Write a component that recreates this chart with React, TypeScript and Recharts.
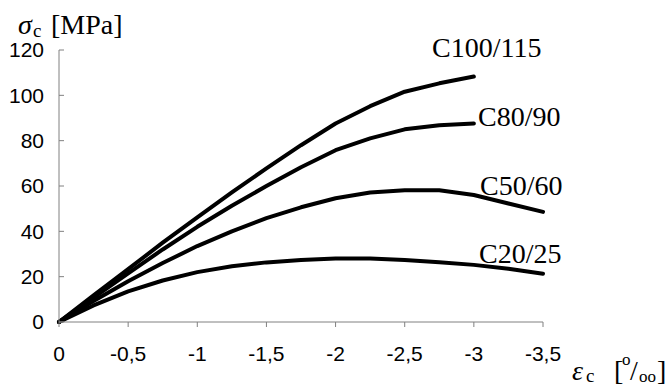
import React from 'react';
import { LineChart, Line, XAxis, YAxis, Label } from 'recharts';

const strain = [0, -0.25, -0.5, -0.75, -1, -1.25, -1.5, -1.75, -2, -2.25, -2.5, -2.75, -3, -3.25, -3.5];
const c20 = [0, 7.3, 13.5, 18.3, 22, 24.6, 26.3, 27.4, 28, 28, 27.3, 26.4, 25.2, 23.5, 21.3];
const c50 = [0, 9.3, 18, 26, 33.5, 40, 45.8, 50.6, 54.6, 57.1, 58.1, 58.1, 56, 52.3, 48.6];
const c80 = [0, 10.8, 21.5, 32, 42, 51.3, 60, 68.3, 75.8, 81, 85, 86.8, 87.6, null, null];
const c100 = [0, 11.8, 23.3, 35, 46.2, 57.2, 67.8, 78, 87.6, 95.2, 101.6, 105.3, 108.3, null, null];

const xTicks = [0, -0.5, -1, -1.5, -2, -2.5, -3, -3.5];
const yTicks = [0, 20, 40, 60, 80, 100, 120];
const seriesKeys = ['c20', 'c50', 'c80', 'c100'];
const seriesNames = ['C20/25', 'C50/60', 'C80/90', 'C100/115'];

const data = strain.map((s, i) => ({
  strain: s,
  c20: c20[i],
  c50: c50[i],
  c80: c80[i],
  c100: c100[i],
}));

const SERIF = 'Liberation Serif, Times New Roman, serif';
const SANS = 'Liberation Sans, Arial, sans-serif';
const AXIS = '#808080';

const fmtX = (v: number) => String(v).replace('.', ',');

const YTitle = () => (
  <g fontFamily={SERIF} fill="#000">
    <text x={18} y={34} fontSize={28} fontStyle="italic">σ</text>
    <text x={33} y={37} fontSize={19}>c</text>
    <text x={51} y={34} fontSize={28}>[MPa]</text>
  </g>
);

const XTitle = () => (
  <g fontFamily={SERIF} fill="#000">
    <text x={572} y={380} fontSize={28} fontStyle="italic">ε</text>
    <text x={586} y={382} fontSize={19}>c</text>
    <text x={614} y={380} fontSize={28}>[</text>
    <text x={622} y={365} fontSize={17}>o</text>
    <text x={630} y={380} fontSize={28}>/</text>
    <text x={639} y={382} fontSize={17}>oo</text>
    <text x={657} y={380} fontSize={28}>]</text>
  </g>
);

const CurveLabels = () => (
  <g fontFamily={SERIF} fill="#000" fontSize={28}>
    <text x={432} y={57}>{seriesNames[3]}</text>
    <text x={478} y={126}>{seriesNames[2]}</text>
    <text x={480} y={195}>{seriesNames[1]}</text>
    <text x={479} y={263}>{seriesNames[0]}</text>
  </g>
);

export default function App() {
  return (
    <div style={{ position: 'absolute', left: 0, top: 0, background: '#fff' }}>
      <LineChart
        width={667}
        height={386}
        data={data}
        margin={{ top: 50, right: 124, left: 0, bottom: 0 }}
      >
        <XAxis
          dataKey="strain"
          type="number"
          domain={[-3.5, 0]}
          reversed
          ticks={xTicks}
          interval={0}
          tickFormatter={fmtX}
          height={64}
          stroke={AXIS}
          tickSize={5}
          tickMargin={19}
          tick={{ fill: '#000', fontSize: 21, fontFamily: SANS }}
        >
          <Label content={() => <XTitle />} />
        </XAxis>
        <YAxis
          type="number"
          domain={[0, 120]}
          ticks={yTicks}
          interval={0}
          width={59}
          stroke={AXIS}
          tickSize={-5}
          tickMargin={20}
          tick={{ fill: '#000', fontSize: 21, fontFamily: SANS }}
        >
          <Label content={() => (<g><YTitle /><CurveLabels /></g>)} />
        </YAxis>
        {seriesKeys.map((k) => (
          <Line
            key={k}
            dataKey={k}
            type="linear"
            stroke="#000"
            strokeWidth={4}
            strokeLinecap="round"
            strokeLinejoin="round"
            dot={false}
            activeDot={false}
            isAnimationActive={false}
          />
        ))}
      </LineChart>
    </div>
  );
}
